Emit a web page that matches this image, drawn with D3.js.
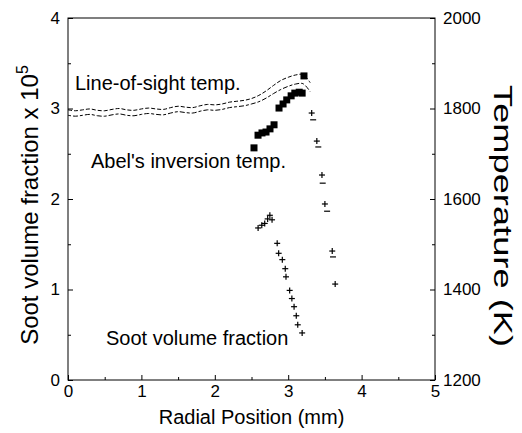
<!DOCTYPE html>
<html>
<head>
<meta charset="utf-8">
<script src="https://cdn.jsdelivr.net/npm/d3@7"></script>
<style>
  body { margin: 0; background: #fff; }
  svg { display: block; }
  text { font-family: "Liberation Sans", Arial, Helvetica, sans-serif; fill: #000; }
</style>
</head>
<body>
<svg id="chart" width="522" height="433"></svg>
<script>
// Radial position (mm) ticks and axis ranges
const xTicks = [0, 1, 2, 3, 4, 5];
const sootTicks = [0, 1, 2, 3, 4];
const tempTicks = [1200, 1400, 1600, 1800, 2000];

// Line-of-sight temperature (K): centre value and half-spread of the band
const losR = [0.0, 0.1, 0.2, 0.3, 0.4, 0.5, 0.6, 0.7, 0.8, 0.9, 1.0, 1.1, 1.2, 1.3, 1.4, 1.5, 1.6,
              1.7, 1.8, 1.9, 2.0, 2.1, 2.2, 2.3, 2.4, 2.5, 2.6, 2.7, 2.8, 2.9, 3.0, 3.1, 3.2, 3.3];
const losT = [1791, 1789, 1791, 1793, 1790, 1789, 1792, 1794, 1791, 1790, 1793, 1795, 1793, 1792, 1796, 1799, 1797,
              1796, 1800, 1803, 1802, 1804, 1808, 1810, 1812, 1816, 1822, 1831, 1842, 1852, 1859, 1864, 1865, 1847];
const losSpread = [6, 6, 6, 6, 6, 6, 6, 6, 6, 6, 6, 6, 6, 6, 6, 6, 6,
                   6, 6, 6, 6, 6, 6, 6, 6, 6, 7, 8, 9, 10, 10, 10, 10, 10];

// Abel's inversion temperature (K)
const abelR = [2.534, 2.589, 2.643, 2.698, 2.752, 2.807, 2.875, 2.93, 2.98, 3.04, 3.09, 3.15, 3.19, 3.215];
const abelT = [1713, 1741, 1746, 1748, 1755, 1764, 1801, 1810, 1819, 1828, 1834, 1836, 1834, 1872];

// Temperature at the flame edge (K)
const edgeR = [3.32, 3.34, 3.39, 3.41, 3.46, 3.47, 3.50, 3.53, 3.60, 3.61, 3.64];
const edgeT = [1790, 1775, 1728, 1715, 1653, 1635, 1589, 1573, 1485, 1472, 1412];

// Soot volume fraction (x 10^5)
const sootR = [2.59, 2.64, 2.68, 2.72, 2.75, 2.78, 2.85, 2.87, 2.92, 2.96, 2.97, 3.02, 3.05, 3.08, 3.11, 3.13, 3.19];
const sootV = [1.68, 1.71, 1.73, 1.78, 1.82, 1.77, 1.51, 1.40, 1.33, 1.23, 1.14, 0.99, 0.90, 0.81, 0.71, 0.61, 0.52];

const svg = d3.select("#chart");
const m = { left: 68, top: 18, right: 87, bottom: 53 };
const W = 522 - m.left - m.right;
const H = 433 - m.top - m.bottom;

const x = d3.scaleLinear().domain([0, 5]).range([m.left, m.left + W]);
const yS = d3.scaleLinear().domain([0, 4]).range([m.top + H, m.top]);
const yT = d3.scaleLinear().domain([1200, 2000]).range([m.top + H, m.top]);

const g = svg.append("g");

// frame
g.append("rect")
  .attr("x", m.left).attr("y", m.top).attr("width", W).attr("height", H)
  .attr("fill", "none").attr("stroke", "#000").attr("stroke-width", 1);

function styleAxis(sel) {
  sel.select(".domain").remove();
  sel.selectAll("line").attr("stroke", "#000");
  sel.selectAll("text").attr("font-size", 17).attr("font-family", "Liberation Sans, Arial, sans-serif");
}

// minor ticks
const minorX = d3.range(0.5, 5, 1);
const minorS = d3.range(0.5, 4, 1);
const minorT = d3.range(1300, 2000, 200);

g.append("g").attr("transform", `translate(0,${m.top + H})`)
  .call(d3.axisBottom(x).tickValues(minorX).tickSize(-3).tickFormat(""))
  .call(styleAxis);
g.append("g").attr("transform", `translate(${m.left},0)`)
  .call(d3.axisLeft(yS).tickValues(minorS).tickSize(-3).tickFormat(""))
  .call(styleAxis);
g.append("g").attr("transform", `translate(${m.left + W},0)`)
  .call(d3.axisRight(yT).tickValues(minorT).tickSize(-3).tickFormat(""))
  .call(styleAxis);

// major ticks with labels
g.append("g").attr("transform", `translate(0,${m.top + H})`)
  .call(d3.axisBottom(x).tickValues(xTicks).tickSize(-5).tickPadding(5).tickFormat(d3.format("d")))
  .call(styleAxis);
g.append("g").attr("transform", `translate(${m.left},0)`)
  .call(d3.axisLeft(yS).tickValues(sootTicks).tickSize(-5).tickPadding(8).tickFormat(d3.format("d")))
  .call(styleAxis);
g.append("g").attr("transform", `translate(${m.left + W},0)`)
  .call(d3.axisRight(yT).tickValues(tempTicks).tickSize(-5).tickPadding(8).tickFormat(d3.format("d")))
  .call(styleAxis);

// line-of-sight band: two dashed edges
const losData = losR.map((r, i) => ({ r, t: losT[i], s: losSpread[i] }));
const upper = d3.line().x(d => x(d.r)).y(d => yT(d.t + d.s)).curve(d3.curveCatmullRom);
const lower = d3.line().x(d => x(d.r)).y(d => yT(d.t - d.s)).curve(d3.curveCatmullRom);
[upper, lower].forEach((ln, k) => {
  g.append("path").datum(losData)
    .attr("d", ln)
    .attr("fill", "none")
    .attr("stroke", "#000")
    .attr("stroke-width", 1)
    .attr("stroke-dasharray", k === 0 ? "4,2" : "3,2,5,2");
});

// Abel's inversion temperatures: filled squares
const sq = 7;
g.append("g").selectAll("rect")
  .data(abelR.map((r, i) => ({ r, t: abelT[i] })))
  .join("rect")
  .attr("x", d => x(d.r) - sq / 2)
  .attr("y", d => yT(d.t) - sq / 2)
  .attr("width", sq).attr("height", sq)
  .attr("fill", "#000");

// small plus markers
function plus(sel, cx, cy, k) {
  sel.each(function (d, i) {
    const s = d3.select(this);
    const px = cx(d), py = cy(d);
    s.append("line").attr("x1", px - 3).attr("x2", px + 3).attr("y1", py).attr("y2", py);
    if (i % k === 0) {
      s.append("line").attr("x1", px).attr("x2", px).attr("y1", py - 3).attr("y2", py + 3);
    }
  });
  sel.selectAll("line").attr("stroke", "#000").attr("stroke-width", 1.2);
}

g.append("g").selectAll("g")
  .data(edgeR.map((r, i) => ({ r, t: edgeT[i] })))
  .join("g")
  .call(plus, d => x(d.r), d => yT(d.t), 2);

g.append("g").selectAll("g")
  .data(sootR.map((r, i) => ({ r, v: sootV[i] })))
  .join("g")
  .call(plus, d => x(d.r), d => yS(d.v), 1);

// series annotations
const notes = [
  { t: "Line-of-sight temp.", x: 75, y: 90 },
  { t: "Abel's inversion temp.", x: 91, y: 168 },
  { t: "Soot volume fraction", x: 106, y: 345 }
];
g.selectAll(".note").data(notes).join("text")
  .attr("class", "note")
  .attr("x", d => d.x).attr("y", d => d.y)
  .attr("font-size", 20)
  .text(d => d.t);

// axis titles
g.append("text")
  .attr("x", (m.left + m.left + W) / 2).attr("y", 424)
  .attr("text-anchor", "middle")
  .attr("font-size", 20)
  .text("Radial Position (mm)");

const yl = g.append("text")
  .attr("transform", "translate(38,205) rotate(-90)")
  .attr("text-anchor", "middle")
  .attr("font-size", 24);
yl.append("tspan").text("Soot volume fraction x 10");
yl.append("tspan").attr("dy", -10).attr("font-size", 16).text("5");

g.append("text")
  .attr("transform", "translate(494,216) rotate(90)")
  .attr("text-anchor", "middle")
  .attr("font-size", 25)
  .attr("textLength", 262)
  .attr("lengthAdjust", "spacingAndGlyphs")
  .text("Temperature (K)");
</script>
</body>
</html>
